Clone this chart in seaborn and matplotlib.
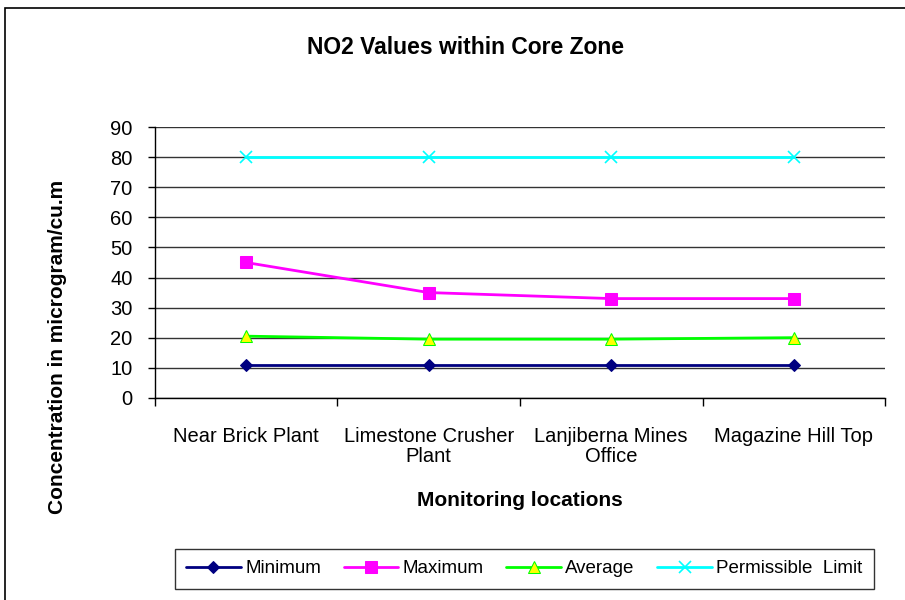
import matplotlib
matplotlib.use('Agg')
import matplotlib.pyplot as plt
import seaborn as sns
import pandas as pd
from matplotlib.patches import Rectangle

locations = ['Near Brick Plant', 'Limestone Crusher\nPlant', 'Lanjiberna Mines\nOffice', 'Magazine Hill Top']
minimum = [11, 11, 11, 11]
maximum = [45, 35, 33, 33]
average = [20.5, 19.5, 19.5, 20]
limit = [80, 80, 80, 80]

series = {
    'Minimum': minimum,
    'Maximum': maximum,
    'Average': average,
    'Permissible  Limit': limit,
}
styles = {
    'Minimum': dict(color='#000080', marker='D', markersize=6, mfc='#000080', mec='#000080'),
    'Maximum': dict(color='#FF00FF', marker='s', markersize=9, mfc='#FF00FF', mec='#FF00FF'),
    'Average': dict(color='#00FF00', marker='^', markersize=9, mfc='#FFFF00', mec='#00FF00'),
    'Permissible  Limit': dict(color='#00FFFF', marker='x', markersize=8, mfc='#00FFFF', mec='#00FFFF', mew=1.2),
}

sns.set_theme(style='white')
plt.rcParams['font.family'] = ['Liberation Sans', 'DejaVu Sans']
plt.rcParams['text.color'] = 'black'
plt.rcParams['xtick.color'] = 'black'
plt.rcParams['ytick.color'] = 'black'
plt.rcParams['axes.labelcolor'] = 'black'

fig = plt.figure(figsize=(9.05, 6), dpi=100)
ax = fig.add_axes([0.171, 0.337, 0.807, 0.451])

pos = list(range(len(locations)))
for name, vals in series.items():
    df = pd.DataFrame({'x': pos, 'y': vals})
    sns.lineplot(data=df, x='x', y='y', ax=ax, label=name, linewidth=2, **styles[name])

ax.set_xlim(-0.5, 3.5)
ax.set_ylim(0, 90)
ax.set_yticks(range(0, 91, 10))
ax.set_xticks([-0.5, 0.5, 1.5, 2.5, 3.5])
ax.set_xticklabels([])
ax.set_xticks(pos, minor=True)
ax.set_xticklabels(locations, minor=True, fontsize=14.5, linespacing=1.05)
ax.tick_params(axis='x', which='major', direction='out', length=6, width=1, color='black', bottom=True)
ax.tick_params(axis='x', which='minor', length=0, pad=21)
ax.tick_params(axis='y', direction='out', length=5, width=1, color='black', left=True, labelsize=14.5, pad=11)
ax.grid(axis='y', color='#333333', linewidth=1)
ax.set_axisbelow(True)
for s in ['top', 'right']:
    ax.spines[s].set_visible(False)
for s in ['left', 'bottom']:
    ax.spines[s].set_color('black')
    ax.spines[s].set_linewidth(1)

ax.set_xlabel('Monitoring locations', fontsize=15, fontweight='bold', labelpad=18)
ax.set_ylabel('')
fig.text(0.063, 0.422, 'Concentration in microgram/cu.m', rotation=90, ha='center', va='center',
         fontsize=15, fontweight='bold')
fig.text(0.514, 0.92, 'NO2 Values within Core Zone', ha='center', va='center', fontsize=16.5, fontweight='bold')

leg = ax.legend(loc='center', bbox_to_anchor=(0.5795, 0.052), bbox_transform=fig.transFigure,
                ncol=4, frameon=True, fancybox=False, fontsize=13.5, handlelength=2.9,
                handletextpad=0.25, columnspacing=1.2, borderpad=0.6)
leg.get_frame().set_edgecolor('black')
leg.get_frame().set_linewidth(1)

fig.patches.append(Rectangle((0.006, -0.01), 1.0, 0.997, transform=fig.transFigure,
                             fill=False, edgecolor='black', linewidth=1.2))

fig.savefig('out.png', dpi=100)
